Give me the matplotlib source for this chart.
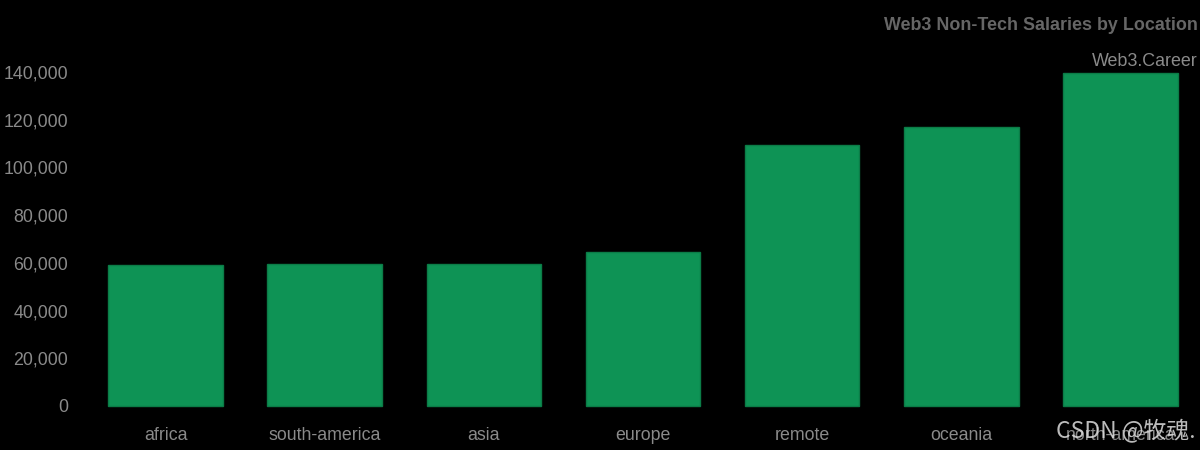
import matplotlib
matplotlib.use("Agg")
import matplotlib.pyplot as plt
from matplotlib.ticker import FuncFormatter

categories = ["africa", "south-america", "asia", "europe", "remote", "oceania", "north-america"]
salaries = [59000, 59500, 59500, 64500, 109500, 117000, 139500]
yticks = [0, 20000, 40000, 60000, 80000, 100000, 120000, 140000]

plt.rcParams['font.family'] = ['Liberation Sans', 'DejaVu Sans']

W, H = 1200, 450
fig = plt.figure(figsize=(12, 4.5), dpi=100, facecolor='black')
ax = fig.add_axes([86 / W, (H - 406) / H, (1200 - 86) / W, (406 - 72) / H])
ax.set_facecolor('black')

x = list(range(len(categories)))
ax.bar(x, salaries, width=0.72, color='#0e9355', edgecolor='#0b7c47', linewidth=1, clip_on=False)
ax.set_xlim(-0.5, len(categories) - 0.5)
ax.set_ylim(0, 140000)
ax.set_yticks(yticks)
ax.yaxis.set_major_formatter(FuncFormatter(lambda v, p: f"{int(v):,}"))
ax.set_xticks(x)
ax.set_xticklabels(categories)
ax.tick_params(axis='both', length=0, colors='#8a8a8a', labelsize=12.8)
ax.tick_params(axis='x', pad=15)
ax.tick_params(axis='y', pad=13)
for s in ax.spines.values():
    s.set_visible(False)

fig.text(1198 / W, 1 - 25 / H, "Web3 Non-Tech Salaries by Location", ha='right', va='center',
         fontsize=12.9, fontweight='bold', color='#666666')
fig.text(1198 / W, 1 - 61 / H, "Web3.Career", ha='right', va='center',
         fontsize=12.9, color='#8a8a8a')
fig.text(1195 / W, 1 - 431 / H, "CSDN @牧魂.", ha='right', va='center', fontsize=16.5,
         color='#dddddd', alpha=0.85, family=['Noto Sans CJK SC', 'DejaVu Sans'])

fig.savefig("out.png", dpi=100, facecolor='black')
